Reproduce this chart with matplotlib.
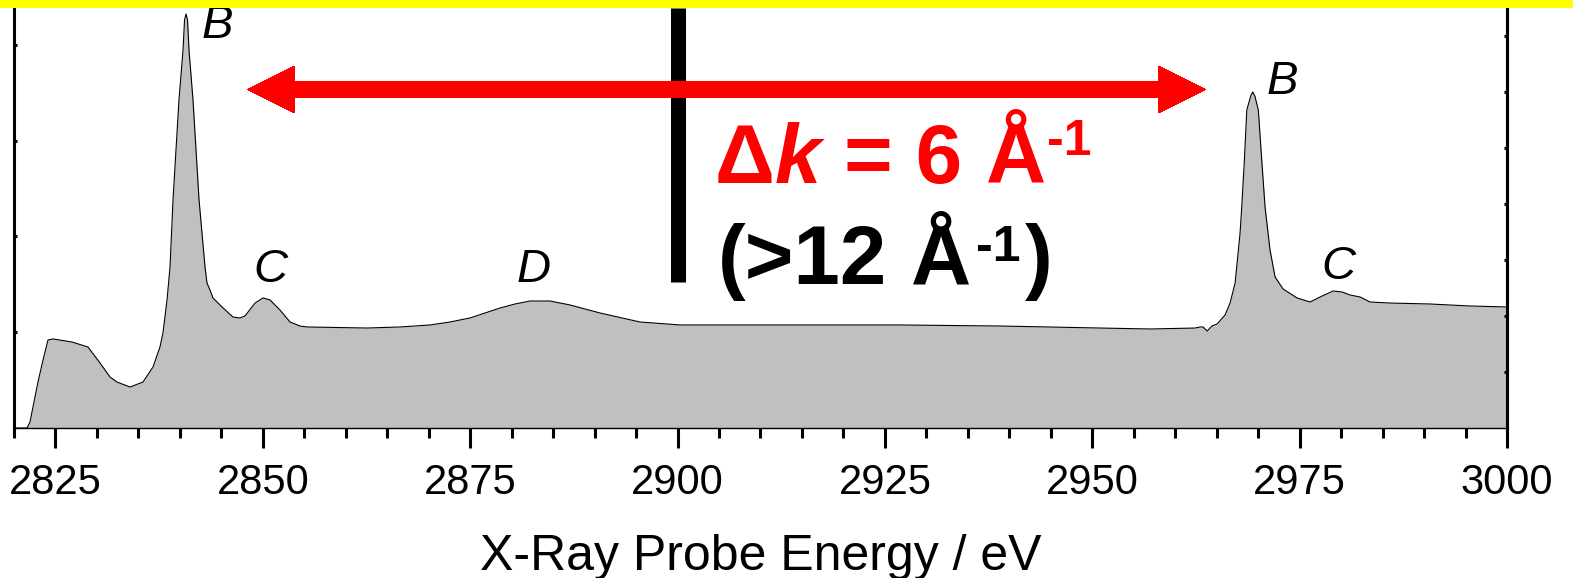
import numpy as np
import matplotlib
matplotlib.use("Agg")
import matplotlib.pyplot as plt
from matplotlib.patches import FancyArrow, Rectangle

plt.rcParams['font.family'] = ['Liberation Sans', 'DejaVu Sans']

# Spectrum (energy in eV, intensity in arbitrary units)
energy = [2820.0, 2821.57, 2821.93, 2822.29, 2822.89, 2823.50, 2824.10, 2824.70,
          2826.99, 2828.92, 2830.37, 2831.57, 2832.42, 2833.99, 2835.55, 2836.76,
          2837.60, 2837.96, 2838.45, 2838.81, 2839.17, 2839.89, 2840.38, 2840.56,
          2840.74, 2840.92, 2841.10, 2841.58, 2842.31, 2843.03, 2843.27, 2843.63,
          2843.99, 2845.08, 2846.40, 2847.25, 2847.85, 2849.06, 2850.02, 2850.87,
          2852.07, 2853.28, 2854.48, 2855.33, 2862.56, 2866.54, 2870.16, 2872.57,
          2874.98, 2878.60, 2880.41, 2882.21, 2884.62, 2887.03, 2890.65, 2895.48,
          2900.30, 2914.77, 2926.83, 2938.88, 2950.94, 2956.97, 2962.39, 2962.99,
          2963.35, 2963.85, 2964.44, 2965.05, 2966.01, 2966.61, 2967.22, 2967.82,
          2968.02, 2968.34, 2968.63, 2969.10, 2969.35, 2969.60, 2970.02, 2970.43,
          2970.83, 2971.43, 2972.04, 2973.00, 2974.69, 2976.26, 2977.47, 2979.03,
          2980.12, 2981.08, 2982.29, 2983.49, 2985.90, 2990.73, 2995.55, 3000.0]
intensity = [0.0, 0.0, 0.063, 0.219, 0.48, 0.710, 0.919, 0.930,
             0.898, 0.846, 0.679, 0.533, 0.480, 0.428, 0.480, 0.637,
             0.846, 0.992, 1.337, 1.681, 2.381, 3.426, 3.948, 4.261,
             4.324, 4.261, 3.948, 3.426, 2.381, 1.681, 1.514, 1.441,
             1.358, 1.264, 1.159, 1.149, 1.170, 1.305, 1.358, 1.337,
             1.232, 1.107, 1.065, 1.055, 1.044, 1.055, 1.076, 1.107,
             1.149, 1.253, 1.295, 1.326, 1.326, 1.285, 1.201, 1.107,
             1.076, 1.076, 1.076, 1.065, 1.044, 1.034, 1.044, 1.055,
             1.055, 1.013, 1.065, 1.086, 1.180, 1.305, 1.514, 2.037,
             2.308, 2.799, 3.321, 3.467, 3.509, 3.467, 3.321, 2.799,
             2.308, 1.859, 1.577, 1.452, 1.358, 1.316, 1.368, 1.431,
             1.420, 1.389, 1.368, 1.316, 1.305, 1.295, 1.274, 1.264]

# Peak labels
peak_labels = ['B', 'C', 'D', 'B', 'C']
peak_x = [2842.6, 2848.9, 2880.6, 2971.0, 2977.6]
peak_y = [4.07, 1.525, 1.525, 3.49, 1.556]

x_major = [2825, 2850, 2875, 2900, 2925, 2950, 2975, 3000]
x_minor = np.arange(2820, 3001, 5)

# Figure
fig = plt.figure(figsize=(15.73, 5.78), dpi=100)
ax = fig.add_axes([14 / 1573, 150 / 578, 1493 / 1573, 420 / 578])

ax.fill_between(energy, intensity, 0, color='#c0c0c0', lw=0, zorder=1)
ax.plot(energy, intensity, color='black', lw=0.8, zorder=2)

ax.set_xlim(2820, 3000)
ax.set_ylim(0, 4.386)
ax.set_xticks(x_major)
ax.set_xticks(x_minor, minor=True)
ax.set_yticks([1, 2, 3, 4])
ax.set_yticklabels([])
ax.tick_params(axis='x', which='major', direction='out', length=14.4, width=2.2,
               labelsize=30, pad=11)
ax.tick_params(axis='x', which='minor', direction='out', length=7.2, width=2.2)
ax.tick_params(axis='y', direction='in', length=2.5, width=2.2, left=True)
ax.spines['top'].set_visible(False)
ax.spines['left'].set_linewidth(2.2)
ax.spines['right'].set_linewidth(2.2)
ax.spines['bottom'].set_linewidth(1.0)
ax.set_xlabel('X-Ray Probe Energy / eV', fontsize=36, labelpad=22)

ax2 = ax.twinx()
ax2.set_ylim(0, 7.5)
ax2.set_yticks(range(1, 8))
ax2.tick_params(axis='y', direction='in', length=2.5, width=2.2, labelright=False)
ax2.spines['top'].set_visible(False)
ax2.spines['right'].set_linewidth(2.2)
ax2.spines['left'].set_visible(False)
ax2.spines['bottom'].set_visible(False)

# black marker line at 2900 eV
ax.plot([2900, 2900], [1.525, 4.386], color='black', lw=10.8,
        solid_capstyle='butt', zorder=3)

# double red arrow
arrow_y = 3.535
left_tip, right_tip = 2848.1, 2963.7
mid = (left_tip + right_tip) / 2
ax.add_patch(FancyArrow(mid + 5, arrow_y, left_tip - mid - 5, 0, width=0.167,
                        head_width=0.49, head_length=5.67, antialiased=False,
                        length_includes_head=True, color='red', lw=0, zorder=4))
ax.add_patch(FancyArrow(mid - 5, arrow_y, right_tip - mid + 5, 0, width=0.167,
                        head_width=0.49, head_length=5.67, antialiased=False,
                        length_includes_head=True, color='red', lw=0, zorder=4))


def chain(prev, s, dx=0, dy=0, ycoords=None, **kw):
    xyc = prev if ycoords is None else (prev, ycoords)
    return ax.annotate(s, xy=(1, 0), xycoords=xyc, xytext=(dx, dy),
                       textcoords='offset points', ha='left', va='bottom',
                       fontweight='bold', zorder=5, **kw)


big, small, space = 60, 36, 16.7
t = ax.text(2904.5, 2.56, 'Δ', color='red', fontsize=big, fontweight='bold',
            ha='left', va='baseline', zorder=5)
t = chain(t, 'k', color='red', fontsize=big, style='italic')
t = chain(t, '= 6', dx=space, color='red', fontsize=big)
t = chain(t, 'Å', dx=space, color='red', fontsize=big)
chain(t, '-1', dx=1, dy=25, color='red', fontsize=small)

t = ax.text(2904.9, 1.50, '(>12', color='black', fontsize=big, fontweight='bold',
            ha='left', va='baseline', zorder=5)
ta = chain(t, 'Å', dx=space, color='black', fontsize=big)
ts = chain(ta, '-1', dx=4, dy=22, color='black', fontsize=small)
chain(ts, ')', dx=3, ycoords=ta, color='black', fontsize=big)

for lab, px, py in zip(peak_labels, peak_x, peak_y):
    ax.text(px, py, lab, fontsize=34, style='italic', ha='left', va='baseline', zorder=5)

# yellow band at the top
fig.add_artist(Rectangle((0, 570 / 578), 1, 8 / 578, transform=fig.transFigure,
                         color='#ffff00', lw=0, zorder=10))

fig.savefig('out.png', dpi=100)
